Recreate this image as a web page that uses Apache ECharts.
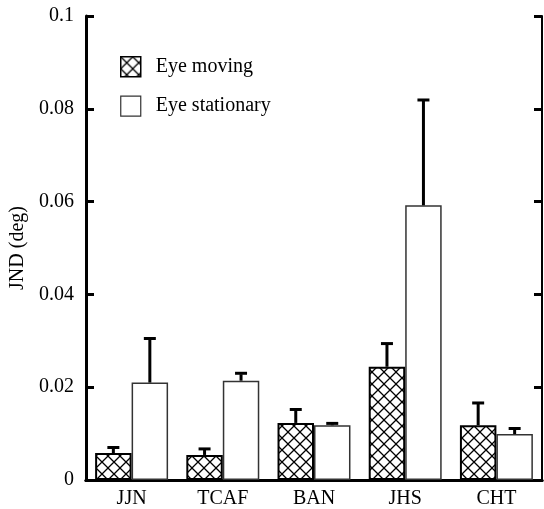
<!DOCTYPE html>
<html>
<head>
<meta charset="utf-8">
<script src="https://cdn.jsdelivr.net/npm/echarts@6/dist/echarts.min.js"></script>
<style>html,body{margin:0;padding:0;background:#fff}#c{width:544px;height:509px}</style>
</head>
<body>
<div id="c"></div>
<script>
var categories = ['JJN', 'TCAF', 'BAN', 'JHS', 'CHT'];
var eyeMoving = [0.0058, 0.0054, 0.0123, 0.0244, 0.0118];
var eyeMovingErr = [0.0012, 0.0013, 0.0029, 0.0050, 0.0048];
var eyeStationary = [0.0210, 0.0214, 0.0118, 0.0592, 0.0099];
var eyeStationaryErr = [0.0095, 0.0016, 0.0004, 0.0227, 0.0012];
var seriesNames = ['Eye moving', 'Eye stationary'];

// crosshatch pattern
var pc = document.createElement('canvas');
pc.width = 12; pc.height = 12;
var g = pc.getContext('2d');
g.fillStyle = '#fff'; g.fillRect(0, 0, 12, 12);
g.strokeStyle = '#000'; g.lineWidth = 1.3;
g.beginPath();
g.moveTo(-1, -1); g.lineTo(13, 13);
g.moveTo(13, -1); g.lineTo(-1, 13);
g.stroke();
var hatch = { image: pc, repeat: 'repeat' };

var FONT = '"Liberation Serif", "Times New Roman", serif';
var chart = echarts.init(document.getElementById('c'), null, { renderer: 'canvas' });

function errSeries(vals, errs, side) {
  var data = vals.map(function (v, i) { return [i, v, v + errs[i]]; });
  return {
    type: 'custom',
    xAxisIndex: 0, yAxisIndex: 0,
    silent: true, z: 5,
    data: data,
    renderItem: function (params, api) {
      var i = api.value(0);
      var c = api.coord([i, 0]);
      var catW = api.size([1, 0])[0];
      var bw = catW * 0.8 / 2;
      var x = c[0] + side * bw / 2;
      var p0 = api.coord([i, api.value(1)]);
      var p1 = api.coord([i, api.value(2)]);
      var capW = 12;
      return {
        type: 'group',
        children: [
          { type: 'line', shape: { x1: x, y1: p0[1], x2: x, y2: p1[1] + 1 }, style: { stroke: '#000', lineWidth: 3 } },
          { type: 'line', shape: { x1: x - capW / 2, y1: p1[1], x2: x + capW / 2, y2: p1[1] }, style: { stroke: '#000', lineWidth: 3 } }
        ]
      };
    }
  };
}

chart.setOption({
  animation: false,
  backgroundColor: '#fff',
  grid: { left: 80, right: 2, top: 16, bottom: 28, containLabel: false },
  legend: {
    orient: 'vertical',
    left: 115, top: 51,
    itemWidth: 20, itemHeight: 20, itemGap: 18,
    textStyle: { fontFamily: FONT, fontSize: 20, color: '#000', padding: [0, 0, 0, 10] },
    data: [
      { name: seriesNames[0], icon: 'rect', itemStyle: { color: hatch, borderColor: '#000', borderWidth: 1.5 } },
      { name: seriesNames[1], icon: 'rect', itemStyle: { color: '#fff', borderColor: '#333', borderWidth: 1.2 } }
    ]
  },
  xAxis: [
    {
      type: 'category', data: categories, position: 'bottom',
      axisLine: { lineStyle: { color: '#000', width: 3 } },
      axisTick: { inside: true, length: 8, lineStyle: { color: '#000', width: 3 } },
      axisLabel: { fontFamily: FONT, fontSize: 20, color: '#000', margin: 9 }
    },
    {
      type: 'category', data: categories, position: 'top',
      axisLine: { lineStyle: { color: '#000', width: 3 } },
      axisTick: { inside: true, length: 8, lineStyle: { color: '#000', width: 3 } },
      axisLabel: { show: false }
    }
  ],
  yAxis: [
    {
      type: 'value', min: 0, max: 0.1, interval: 0.02, position: 'left',
      name: 'JND (deg)', nameLocation: 'middle', nameGap: 58, nameRotate: 90,
      nameTextStyle: { fontFamily: FONT, fontSize: 20, color: '#000' },
      axisLine: { show: true, lineStyle: { color: '#000', width: 3 } },
      axisTick: { show: true, inside: true, length: 8, lineStyle: { color: '#000', width: 3 } },
      axisLabel: { fontFamily: FONT, fontSize: 20, color: '#000', margin: 12 },
      splitLine: { show: false }
    },
    {
      type: 'value', min: 0, max: 0.1, interval: 0.02, position: 'right',
      axisLine: { show: true, lineStyle: { color: '#000', width: 2 } },
      axisTick: { show: true, inside: true, length: 8, lineStyle: { color: '#000', width: 3 } },
      axisLabel: { show: false },
      splitLine: { show: false }
    }
  ],
  series: [
    {
      name: seriesNames[0], type: 'bar', data: eyeMoving,
      barGap: '0%', barCategoryGap: '20%',
      itemStyle: { color: hatch, borderColor: '#000', borderWidth: 2 }
    },
    {
      name: seriesNames[1], type: 'bar', data: eyeStationary,
      barGap: '0%', barCategoryGap: '20%',
      itemStyle: { color: '#fff', borderColor: '#333', borderWidth: 1.5 }
    },
    errSeries(eyeMoving, eyeMovingErr, -1),
    errSeries(eyeStationary, eyeStationaryErr, 1)
  ]
});
</script>
</body>
</html>
